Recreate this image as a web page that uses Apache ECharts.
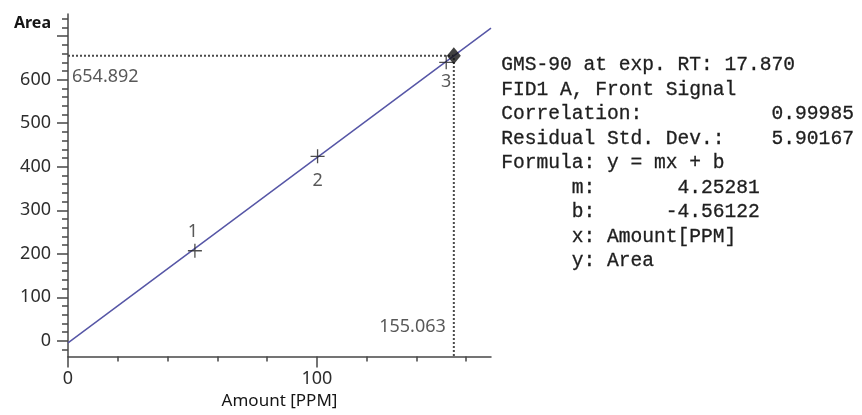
<!DOCTYPE html>
<html><head><meta charset="utf-8">
<script src="https://cdn.jsdelivr.net/npm/echarts@6/dist/echarts.min.js"></script>
<style>html,body{margin:0;padding:0;background:#fff}#c{width:862px;height:415px}</style>
</head><body><div id="c"></div>
<script>
// ---- data ----
const calibIds = ['1', '2', '3'];
const calibAmount = [51, 100.3, 152];
const calibArea = [207, 424, 640];
const fitAmount = [0, 170];
const fitArea = [-4.56, 718.4];
const refAmount = 155.063;
const refArea = 654.892;
const xRange = [0, 170];
const yRange = [-36, 751];
const yLabelValues = [0, 100, 200, 300, 400, 500, 600];
const yMajorTicks = [0, 100, 200, 300, 400, 500, 600, 700];
const yMinorTicks = [-20, 0, 20, 40, 60, 80, 100, 120, 140, 160, 180, 200, 220, 240, 260, 280, 300, 320, 340, 360, 380, 400, 420, 440, 460, 480, 500, 520, 540, 560, 580, 600, 620, 640, 660, 680, 700, 720, 740];
const xLabelValues = [0, 100];
const xMinorTicks = [20, 40, 60, 80, 120, 140, 160];
const infoLines = [
  'GMS-90 at exp. RT: 17.870',
  'FID1 A, Front Signal',
  'Correlation:           0.99985',
  'Residual Std. Dev.:    5.90167',
  'Formula: y = mx + b',
  '      m:       4.25281',
  '      b:      -4.56122',
  '      x: Amount[PPM]',
  '      y: Area'
];

// ---- chart ----
const axisColor = '#474747';
const labelColor = '#2e2e2e';
const sans = '"Noto Sans", sans-serif';
const chart = echarts.init(document.getElementById('c'), null, {renderer: 'canvas'});
const crossPath = 'path://M0,5L10,5M5,0L5,10';

chart.setOption({
  animation: false,
  backgroundColor: '#fff',
  grid: {left: 68, right: 371, top: 14, bottom: 53, containLabel: false},
  xAxis: [
    {
      type: 'value', position: 'bottom', min: xRange[0], max: xRange[1],
      name: 'Amount [PPM]', nameLocation: 'middle', nameGap: 45,
      nameTextStyle: {fontFamily: sans, fontSize: 17, color: '#151515', verticalAlign: 'middle'},
      axisLine: {show: true, onZero: false, lineStyle: {color: axisColor, width: 1.5}},
      axisTick: {show: true, inside: false, length: 11, customValues: xLabelValues, lineStyle: {color: axisColor, width: 1.5}},
      axisLabel: {show: true, customValues: xLabelValues, margin: 13, fontFamily: sans, fontSize: 18, color: labelColor},
      splitLine: {show: false}
    },
    {
      type: 'value', position: 'bottom', min: xRange[0], max: xRange[1],
      axisLine: {show: false, onZero: false},
      axisTick: {show: true, inside: false, length: 5, customValues: xMinorTicks, lineStyle: {color: axisColor, width: 1.5}},
      axisLabel: {show: false},
      splitLine: {show: false}
    }
  ],
  yAxis: [
    {
      type: 'value', position: 'left', min: yRange[0], max: yRange[1],
      name: 'Area', nameLocation: 'end', nameGap: -9,
      nameTextStyle: {fontFamily: sans, fontSize: 16, fontWeight: 'bold', color: '#151515', align: 'right', verticalAlign: 'middle', padding: [0, 17, 0, 0]},
      axisLine: {show: true, onZero: false, lineStyle: {color: axisColor, width: 1.5}},
      axisTick: {show: true, inside: false, length: 11, customValues: yMajorTicks, lineStyle: {color: axisColor, width: 1.5}},
      axisLabel: {show: true, customValues: yLabelValues, margin: 17, fontFamily: sans, fontSize: 18, color: labelColor},
      splitLine: {show: false}
    },
    {
      type: 'value', position: 'left', min: yRange[0], max: yRange[1],
      axisLine: {show: false, onZero: false},
      axisTick: {show: true, inside: false, length: 6, customValues: yMinorTicks, lineStyle: {color: axisColor, width: 1.5}},
      axisLabel: {show: false},
      splitLine: {show: false}
    }
  ],
  graphic: [{
    type: 'text', left: 501, top: 53,
    style: {
      text: infoLines.join('\n'),
      font: '19.6px "Liberation Mono", monospace',
      fill: '#1e1e1e', lineHeight: 24.5,
      stroke: '#1e1e1e', lineWidth: 0.3
    }
  }],
  series: [
    {
      type: 'line', silent: true, symbol: 'none', z: 2,
      data: fitAmount.map((x, i) => [x, fitArea[i]]),
      lineStyle: {color: '#5656a6', width: 1.5}
    },
    {
      type: 'line', silent: true, symbol: 'none', z: 1,
      data: [[xRange[0], refArea], [refAmount, refArea], [refAmount, yRange[0]]],
      lineStyle: {color: '#4a4a4a', width: 2, type: [2, 2]}
    },
    {
      type: 'scatter', silent: true, z: 3,
      symbol: crossPath, symbolSize: 14,
      itemStyle: {color: 'rgba(0,0,0,0)', borderColor: '#222', borderWidth: 1.3},
      data: calibAmount.map((x, i) => ({
        value: [x, calibArea[i]], name: calibIds[i],
        label: {
          show: true, formatter: calibIds[i],
          position: i === 0 ? 'top' : 'bottom',
          distance: i === 0 ? 2 : (i === 1 ? 8 : 3),
          offset: i === 0 ? [-2, 0] : [0, 0],
          fontFamily: sans, fontSize: 18, color: '#2e2e2e'
        }
      }))
    },
    {
      type: 'scatter', silent: true, z: 4,
      symbol: 'diamond', symbolSize: [14, 17],
      itemStyle: {color: '#111'},
      data: [[refAmount, refArea]]
    },
    {
      type: 'scatter', silent: true, z: 5,
      symbolSize: 0,
      data: [
        {value: [xRange[0], refArea], label: {show: true, formatter: refArea.toFixed(3), position: [4, 12], align: 'left', verticalAlign: 'top', fontFamily: sans, fontSize: 18, color: '#2e2e2e'}},
        {value: [refAmount, 0], label: {show: true, formatter: refAmount.toFixed(3), position: [-8, -14], align: 'right', verticalAlign: 'middle', fontFamily: sans, fontSize: 18, color: '#2e2e2e'}}
      ]
    }
  ]
});
</script>
</body></html>
